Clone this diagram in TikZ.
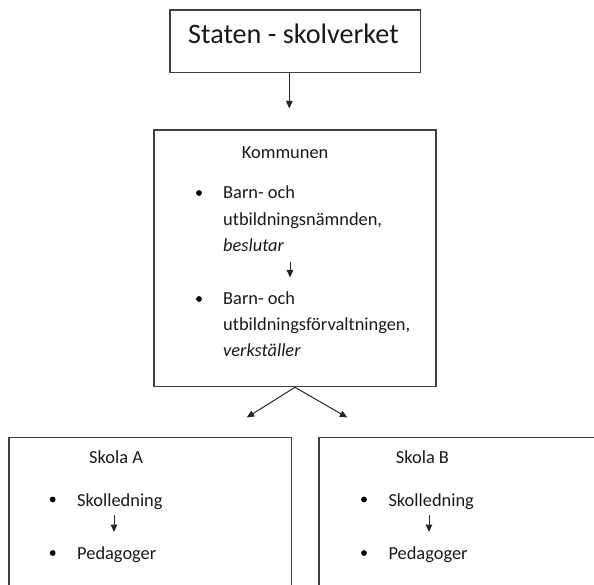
\documentclass[tikz,border=0pt]{standalone}
\usepackage{fontspec}
\setmainfont{Carlito}
\usetikzlibrary{arrows.meta}
\tikzset{
  box/.style={draw=black!75, line width=1.2pt, rectangle, inner sep=0pt},
  txt/.style={anchor=base west, inner sep=0pt, text=black!90, font=\fontsize{18.4}{22}\selectfont},
  ttl/.style={anchor=base west, inner sep=0pt, text=black!90, font=\fontsize{28.2}{34}\selectfont},
  arr/.style={draw=black!85, line width=1pt, -{Triangle[length=7.5pt,width=6.5pt]}},
  bul/.style={circle, fill=black, inner sep=0pt, minimum size=5.8pt}
}
\begin{document}
\begin{tikzpicture}[x=1pt,y=-1pt]
\useasboundingbox (0,0) rectangle (594,585);
\clip (0,0) rectangle (594,585);
% boxes
\node[box, minimum width=250.7pt, minimum height=62.7pt] (staten) at (295.35,41.35) {};
\node[box, minimum width=282pt, minimum height=256.7pt] (kommunen) at (295,258.35) {};
\node[box, minimum width=282.7pt, minimum height=182pt] (skolaA) at (150.35,528.7) {};
\node[box, minimum width=300pt, minimum height=182pt] (skolaB) at (469,528.7) {};
% title
\node[ttl] (tstaten) at (188,43.5) {Staten - skolverket};
% Kommunen contents
\node[txt] (tkomm) at (241.7,158.5) {Kommunen};
\node[bul] (b1) at (199,193) {};
\node[txt] (k1) at (223,199) {Barn- och};
\node[txt] (k2) at (223,225.5) {utbildningsnämnden,};
\node[txt] (k3) at (223,251.5) {\itshape beslutar};
\node[bul] (b2) at (199,299) {};
\node[txt] (k4) at (223,304.5) {Barn- och};
\node[txt] (k5) at (223,330.5) {utbildningsförvaltningen,};
\node[txt] (k6) at (223,356.5) {\itshape verkställer};
% Skola A contents
\node[txt] (tA) at (89,463.3) {Skola A};
\node[bul] (bA1) at (52.7,499.5) {};
\node[txt] (A1) at (77,506) {Skolledning};
\node[bul] (bA2) at (52.7,553) {};
\node[txt] (A2) at (77,559.3) {Pedagoger};
% Skola B contents
\node[txt] (tB) at (395.7,463.3) {Skola B};
\node[bul] (bB1) at (364,499.5) {};
\node[txt] (B1) at (388.3,506) {Skolledning};
\node[bul] (bB2) at (364,553) {};
\node[txt] (B2) at (388.3,559.3) {Pedagoger};
% arrow coordinates
\coordinate (e1) at (289.3,108.5);
\coordinate (ks) at (290,262);
\coordinate (ke) at (290,277.5);
\coordinate (eL) at (246.7,417.5);
\coordinate (eR) at (347.3,417.5);
\coordinate (as) at (114,515);
\coordinate (ae) at (114,532);
\coordinate (bs) at (429,515);
\coordinate (be) at (429,532);
% arrows
\draw[arr] (staten.south -| e1) -- (e1);
\draw[arr] (ks) -- (ke);
\draw[arr] (kommunen.south) -- (eL);
\draw[arr] (kommunen.south) -- (eR);
\draw[arr] (as) -- (ae);
\draw[arr] (bs) -- (be);
\end{tikzpicture}
\end{document}
